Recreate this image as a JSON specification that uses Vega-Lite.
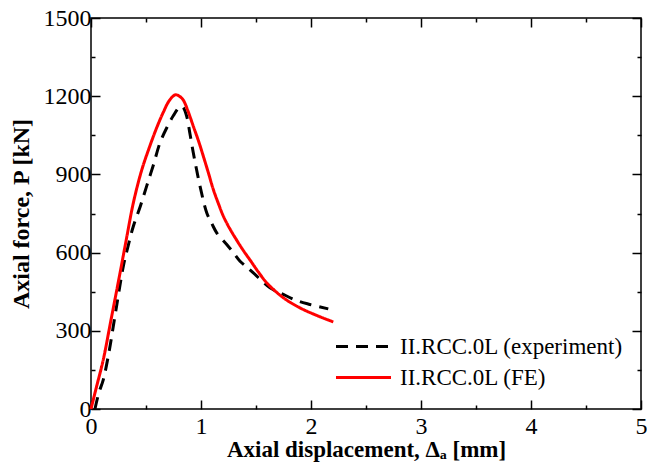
{
  "$schema": "https://vega.github.io/schema/vega-lite/v6.json",
  "width": 550,
  "height": 391,
  "autosize": {"type": "none"},
  "padding": {"left": 91, "top": 18, "right": 6, "bottom": 66},
  "title": {"text": "(a)", "font": "Liberation Serif", "fontSize": 22, "fontWeight": "normal", "color": "black", "offset": 20, "baseline": "alphabetic", "dx": -34},
  "config": {
    "font": "Liberation Serif",
    "view": {"stroke": "black", "strokeWidth": 1.5},
    "axis": {
      "domain": false, "grid": false, "tickColor": "black", "tickWidth": 1.5,
      "labelFont": "Liberation Serif", "labelFontSize": 24, "labelColor": "black",
      "titleFont": "Liberation Serif", "titleFontSize": 23, "titleFontWeight": "bold", "titleColor": "black",
      "labelFlush": false, "labelOverlap": false
    },
    "legend": {"labelFont": "Liberation Serif"}
  },
  "data": {"values": [
    {"x": 0.036, "y": 0, "s": "II.RCC.0L (experiment)"},
    {"x": 0.07, "y": 60, "s": "II.RCC.0L (experiment)"},
    {"x": 0.112, "y": 113, "s": "II.RCC.0L (experiment)"},
    {"x": 0.16, "y": 210, "s": "II.RCC.0L (experiment)"},
    {"x": 0.203, "y": 318, "s": "II.RCC.0L (experiment)"},
    {"x": 0.25, "y": 440, "s": "II.RCC.0L (experiment)"},
    {"x": 0.294, "y": 548, "s": "II.RCC.0L (experiment)"},
    {"x": 0.34, "y": 630, "s": "II.RCC.0L (experiment)"},
    {"x": 0.385, "y": 701, "s": "II.RCC.0L (experiment)"},
    {"x": 0.45, "y": 780, "s": "II.RCC.0L (experiment)"},
    {"x": 0.506, "y": 855, "s": "II.RCC.0L (experiment)"},
    {"x": 0.57, "y": 940, "s": "II.RCC.0L (experiment)"},
    {"x": 0.627, "y": 1021, "s": "II.RCC.0L (experiment)"},
    {"x": 0.69, "y": 1080, "s": "II.RCC.0L (experiment)"},
    {"x": 0.748, "y": 1125, "s": "II.RCC.0L (experiment)"},
    {"x": 0.809, "y": 1160, "s": "II.RCC.0L (experiment)"},
    {"x": 0.835, "y": 1158, "s": "II.RCC.0L (experiment)"},
    {"x": 0.87, "y": 1123, "s": "II.RCC.0L (experiment)"},
    {"x": 0.9, "y": 1055, "s": "II.RCC.0L (experiment)"},
    {"x": 0.93, "y": 983, "s": "II.RCC.0L (experiment)"},
    {"x": 0.96, "y": 918, "s": "II.RCC.0L (experiment)"},
    {"x": 0.991, "y": 855, "s": "II.RCC.0L (experiment)"},
    {"x": 1.052, "y": 753, "s": "II.RCC.0L (experiment)"},
    {"x": 1.1, "y": 710, "s": "II.RCC.0L (experiment)"},
    {"x": 1.143, "y": 676, "s": "II.RCC.0L (experiment)"},
    {"x": 1.234, "y": 631, "s": "II.RCC.0L (experiment)"},
    {"x": 1.294, "y": 600, "s": "II.RCC.0L (experiment)"},
    {"x": 1.355, "y": 567, "s": "II.RCC.0L (experiment)"},
    {"x": 1.415, "y": 545, "s": "II.RCC.0L (experiment)"},
    {"x": 1.476, "y": 522, "s": "II.RCC.0L (experiment)"},
    {"x": 1.627, "y": 465, "s": "II.RCC.0L (experiment)"},
    {"x": 1.733, "y": 443, "s": "II.RCC.0L (experiment)"},
    {"x": 1.87, "y": 416, "s": "II.RCC.0L (experiment)"},
    {"x": 1.99, "y": 401, "s": "II.RCC.0L (experiment)"},
    {"x": 2.157, "y": 384, "s": "II.RCC.0L (experiment)"},
    {"x": 0, "y": 0, "s": "II.RCC.0L (FE)"},
    {"x": 0.05, "y": 85, "s": "II.RCC.0L (FE)"},
    {"x": 0.112, "y": 190, "s": "II.RCC.0L (FE)"},
    {"x": 0.18, "y": 338, "s": "II.RCC.0L (FE)"},
    {"x": 0.264, "y": 522, "s": "II.RCC.0L (FE)"},
    {"x": 0.32, "y": 648, "s": "II.RCC.0L (FE)"},
    {"x": 0.385, "y": 791, "s": "II.RCC.0L (FE)"},
    {"x": 0.46, "y": 915, "s": "II.RCC.0L (FE)"},
    {"x": 0.536, "y": 1010, "s": "II.RCC.0L (FE)"},
    {"x": 0.6, "y": 1082, "s": "II.RCC.0L (FE)"},
    {"x": 0.657, "y": 1138, "s": "II.RCC.0L (FE)"},
    {"x": 0.71, "y": 1182, "s": "II.RCC.0L (FE)"},
    {"x": 0.764, "y": 1205, "s": "II.RCC.0L (FE)"},
    {"x": 0.8, "y": 1201, "s": "II.RCC.0L (FE)"},
    {"x": 0.839, "y": 1185, "s": "II.RCC.0L (FE)"},
    {"x": 0.88, "y": 1145, "s": "II.RCC.0L (FE)"},
    {"x": 0.93, "y": 1085, "s": "II.RCC.0L (FE)"},
    {"x": 0.98, "y": 1025, "s": "II.RCC.0L (FE)"},
    {"x": 1.021, "y": 970, "s": "II.RCC.0L (FE)"},
    {"x": 1.07, "y": 902, "s": "II.RCC.0L (FE)"},
    {"x": 1.112, "y": 842, "s": "II.RCC.0L (FE)"},
    {"x": 1.16, "y": 786, "s": "II.RCC.0L (FE)"},
    {"x": 1.203, "y": 740, "s": "II.RCC.0L (FE)"},
    {"x": 1.26, "y": 693, "s": "II.RCC.0L (FE)"},
    {"x": 1.324, "y": 648, "s": "II.RCC.0L (FE)"},
    {"x": 1.385, "y": 608, "s": "II.RCC.0L (FE)"},
    {"x": 1.445, "y": 572, "s": "II.RCC.0L (FE)"},
    {"x": 1.521, "y": 526, "s": "II.RCC.0L (FE)"},
    {"x": 1.6, "y": 483, "s": "II.RCC.0L (FE)"},
    {"x": 1.748, "y": 427, "s": "II.RCC.0L (FE)"},
    {"x": 1.9, "y": 388, "s": "II.RCC.0L (FE)"},
    {"x": 2.052, "y": 359, "s": "II.RCC.0L (FE)"},
    {"x": 2.203, "y": 334, "s": "II.RCC.0L (FE)"}
  ]},
  "layer": [
    {
      "mark": {"type": "line", "strokeWidth": 3, "interpolate": "catmull-rom"},
      "encoding": {
        "x": {"field": "x", "type": "quantitative", "scale": {"domain": [0, 5], "nice": false},
          "axis": {"orient": "bottom", "values": [0, 1, 2, 3, 4, 5], "tickSize": -9, "labelPadding": 14, "format": "d",
            "title": "Axial displacement, Δₐ [mm]", "titlePadding": 0}},
        "y": {"field": "y", "type": "quantitative", "scale": {"domain": [0, 1500], "nice": false},
          "axis": {"orient": "left", "values": [0, 300, 600, 900, 1200, 1500], "tickSize": -9, "labelPadding": 9, "format": "d",
            "title": "Axial force, P [kN]", "titleFontSize": 24, "titlePadding": 10}},
        "color": {"field": "s", "type": "nominal",
          "scale": {"domain": ["II.RCC.0L (experiment)", "II.RCC.0L (FE)"], "range": ["black", "red"]},
          "legend": {"title": null, "orient": "none", "legendX": 261, "legendY": 317, "padding": 0,
            "symbolType": "M-5,0H5", "symbolSize": 121, "symbolStrokeWidth": 3, "labelOffset": 25, "labelLimit": 0,
            "labelFont": "Liberation Serif", "labelFontSize": 23, "labelColor": "black", "rowPadding": 7}},
        "strokeDash": {"field": "s", "type": "nominal",
          "scale": {"domain": ["II.RCC.0L (experiment)", "II.RCC.0L (FE)"], "range": [[12, 8], [1, 0]]},
          "legend": null}
      }
    },
    {
      "mark": {"type": "point", "opacity": 0},
      "encoding": {
        "x": {"field": "x", "type": "quantitative", "axis": {"orient": "top", "values": [0, 1, 2, 3, 4, 5], "tickSize": -9, "labels": false, "title": null}},
        "y": {"field": "y", "type": "quantitative", "axis": {"orient": "right", "values": [0, 300, 600, 900, 1200, 1500], "tickSize": -9, "labels": false, "title": null}}
      }
    },
    {
      "mark": {"type": "point", "opacity": 0},
      "encoding": {
        "x": {"field": "x", "type": "quantitative", "axis": {"orient": "bottom", "values": [0.5, 1.5, 2.5, 3.5, 4.5], "tickSize": -4, "labels": false, "title": null}},
        "y": {"field": "y", "type": "quantitative", "axis": {"orient": "left", "values": [150, 450, 750, 1050, 1350], "tickSize": -4, "labels": false, "title": null}}
      }
    },
    {
      "mark": {"type": "point", "opacity": 0},
      "encoding": {
        "x": {"field": "x", "type": "quantitative", "axis": {"orient": "top", "values": [0.5, 1.5, 2.5, 3.5, 4.5], "tickSize": -4, "labels": false, "title": null}},
        "y": {"field": "y", "type": "quantitative", "axis": {"orient": "right", "values": [150, 450, 750, 1050, 1350], "tickSize": -4, "labels": false, "title": null}}
      }
    }
  ],
  "resolve": {"axis": {"x": "independent", "y": "independent"}}
}
